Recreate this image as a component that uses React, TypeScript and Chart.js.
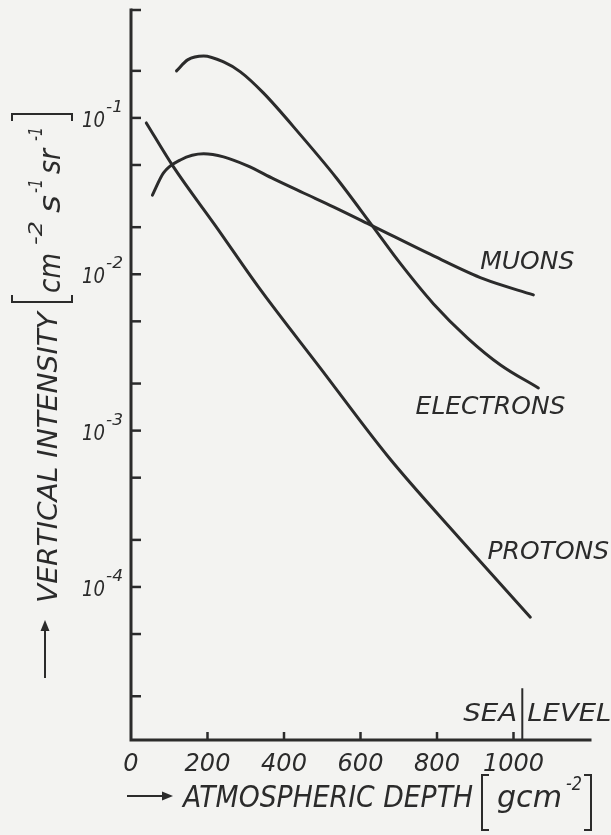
import React, { useEffect, useRef } from "react";
import { Chart, registerables } from "chart.js";

Chart.register(...registerables);

// ---- data ----
const electronDepth = [119, 148, 190, 242, 286, 346, 443, 537, 631, 705, 791, 880, 966, 1065];
const electronIntensity = [0.2, 0.235, 0.249, 0.228, 0.197, 0.1445, 0.0779, 0.0413, 0.0204, 0.01164, 0.00646, 0.00391, 0.00263, 0.001875];

const muonDepth = [56, 85, 129, 190, 242, 305, 373, 451, 529, 631, 791, 922, 1052];
const muonIntensity = [0.0321, 0.0445, 0.0538, 0.0589, 0.0563, 0.0493, 0.0407, 0.0331, 0.027, 0.0204, 0.0131, 0.00933, 0.00738];

const protonDepth = [40, 111, 221, 333, 495, 673, 861, 1044];
const protonIntensity = [0.0929, 0.0486, 0.0204, 0.0083, 0.00251, 0.000678, 0.000202, 0.0000641];

const seriesNames = ["ELECTRONS", "MUONS", "PROTONS"];

const xMin = 0;
const xMax = 1200;
const yMin = 1.05e-5;
const yMax = 0.49;

const xTickValues = [200, 400, 600, 800, 1000];
const xTickLabels = ["0", "200", "400", "600", "800", "1000"];
const xLabelValues = [0, 200, 400, 600, 800, 1000];

const yMajorValues = [1e-1, 1e-2, 1e-3, 1e-4];
const yMajorExponents = ["-1", "-2", "-3", "-4"];
const yMinorValues = [0.49, 0.2, 0.05, 0.02, 5e-3, 2e-3, 5e-4, 2e-4, 5e-5, 2e-5];

const seaLevelDepth = 1023;
const seaLevelTop = 2.25e-5;

// label anchors in data space (depth, intensity)
const labelAnchorDepth = [744, 913, 932];
const labelAnchorIntensity = [0.001459, 0.01234, 0.000172];

const INK = "#2b2b2b";
const FONT = '"DejaVu Sans"';

function fitText(ctx: CanvasRenderingContext2D, text: string, x: number, y: number, w: number, size: number) {
  ctx.font = `italic ${size}px ${FONT}`;
  const m = ctx.measureText(text).width;
  const s = w / m;
  ctx.save();
  ctx.translate(x, y);
  ctx.scale(s, 1);
  ctx.textAlign = "left";
  ctx.textBaseline = "alphabetic";
  ctx.fillText(text, 0, 0);
  ctx.restore();
}

function plainText(ctx: CanvasRenderingContext2D, text: string, x: number, y: number, size: number, align: CanvasTextAlign) {
  ctx.font = `italic ${size}px ${FONT}`;
  ctx.textAlign = align;
  ctx.textBaseline = "alphabetic";
  ctx.fillText(text, x, y);
}

const paperPlugin = {
  id: "paper",
  beforeDraw(chart: any) {
    const ctx = chart.ctx as CanvasRenderingContext2D;
    ctx.save();
    ctx.fillStyle = "#f3f3f1";
    ctx.fillRect(0, 0, chart.width, chart.height);
    ctx.restore();
  },
  afterDraw(chart: any) {
    const ctx = chart.ctx as CanvasRenderingContext2D;
    const xs = chart.scales.x;
    const ys = chart.scales.y;
    const x0 = xs.getPixelForValue(xMin);
    const x1 = xs.getPixelForValue(xMax);
    const yTop = ys.getPixelForValue(yMax);
    const yBot = ys.getPixelForValue(yMin);

    ctx.save();
    ctx.strokeStyle = INK;
    ctx.fillStyle = INK;

    // axes
    ctx.lineWidth = 3;
    ctx.lineCap = "square";
    ctx.beginPath();
    ctx.moveTo(x0, yTop);
    ctx.lineTo(x0, yBot);
    ctx.lineTo(x1, yBot);
    ctx.stroke();

    // y ticks (inward)
    ctx.lineWidth = 2.5;
    ctx.lineCap = "butt";
    [...yMajorValues, ...yMinorValues].forEach((v) => {
      const py = ys.getPixelForValue(v);
      ctx.beginPath();
      ctx.moveTo(x0, py);
      ctx.lineTo(x0 + 10, py);
      ctx.stroke();
    });
    // x ticks (inward)
    xTickValues.forEach((v) => {
      const px = xs.getPixelForValue(v);
      ctx.beginPath();
      ctx.moveTo(px, yBot);
      ctx.lineTo(px, yBot - 8);
      ctx.stroke();
    });

    // y labels 10^n
    yMajorValues.forEach((v, i) => {
      const py = ys.getPixelForValue(v);
      fitText(ctx, "10", 82, py + 9, 23, 22);
      fitText(ctx, yMajorExponents[i], 106, py - 6, 17, 16);
    });

    // x labels
    xLabelValues.forEach((v, i) => {
      const px = xs.getPixelForValue(v);
      plainText(ctx, xTickLabels[i], px, 771, 24, "center");
    });

    // sea level marker
    const sx = xs.getPixelForValue(seaLevelDepth);
    ctx.lineWidth = 2;
    ctx.beginPath();
    ctx.moveTo(sx, ys.getPixelForValue(seaLevelTop));
    ctx.lineTo(sx, yBot);
    ctx.stroke();
    fitText(ctx, "SEA", sx - 59, 721, 54, 25);
    fitText(ctx, "LEVEL", sx + 5, 721, 84, 25);

    // series labels
    seriesNames.forEach((name, i) => {
      const px = xs.getPixelForValue(labelAnchorDepth[i]);
      const py = ys.getPixelForValue(labelAnchorIntensity[i]);
      plainText(ctx, name, px, py + 9, 25, "left");
    });

    // x axis title
    ctx.lineWidth = 2;
    ctx.beginPath();
    ctx.moveTo(127, 796);
    ctx.lineTo(164, 796);
    ctx.stroke();
    ctx.beginPath();
    ctx.moveTo(173, 796);
    ctx.lineTo(162, 791.5);
    ctx.lineTo(162, 800.5);
    ctx.closePath();
    ctx.fill();
    fitText(ctx, "ATMOSPHERIC DEPTH", 183, 807, 290, 30);
    ctx.beginPath();
    ctx.moveTo(489, 775);
    ctx.lineTo(482, 775);
    ctx.lineTo(482, 830);
    ctx.lineTo(489, 830);
    ctx.stroke();
    fitText(ctx, "gcm", 497, 807, 65, 30);
    fitText(ctx, "-2", 566, 790, 16, 19);
    ctx.beginPath();
    ctx.moveTo(584, 775);
    ctx.lineTo(591, 775);
    ctx.lineTo(591, 830);
    ctx.lineTo(584, 830);
    ctx.stroke();

    // y axis title (rotated)
    ctx.save();
    ctx.translate(57, 603);
    ctx.rotate(-Math.PI / 2);
    ctx.beginPath();
    ctx.moveTo(-75, -12);
    ctx.lineTo(-26, -12);
    ctx.stroke();
    ctx.beginPath();
    ctx.moveTo(-17, -12);
    ctx.lineTo(-28, -16.5);
    ctx.lineTo(-28, -7.5);
    ctx.closePath();
    ctx.fill();
    fitText(ctx, "VERTICAL INTENSITY", 0, 0, 291, 27);
    ctx.beginPath();
    ctx.moveTo(308, -45);
    ctx.lineTo(301, -45);
    ctx.lineTo(301, 15);
    ctx.lineTo(308, 15);
    ctx.stroke();
    fitText(ctx, "cm", 310, 3, 40, 30);
    fitText(ctx, "-2", 358, -15, 24, 19);
    fitText(ctx, "s", 390, 3, 18, 30);
    fitText(ctx, "-1", 410, -15, 14, 19);
    fitText(ctx, "sr", 429, 3, 25, 30);
    fitText(ctx, "-1", 462, -15, 14, 19);
    ctx.beginPath();
    ctx.moveTo(482, -45);
    ctx.lineTo(489, -45);
    ctx.lineTo(489, 15);
    ctx.lineTo(482, 15);
    ctx.stroke();
    ctx.restore();

    ctx.restore();
  },
};

function toPoints(xs: number[], ys: number[]) {
  return xs.map((x, i) => ({ x, y: ys[i] }));
}

export default function App() {
  const canvasRef = useRef<HTMLCanvasElement | null>(null);

  useEffect(() => {
    const canvas = canvasRef.current;
    if (!canvas) return;
    const chart = new Chart(canvas, {
      type: "line",
      data: {
        datasets: [
          { label: seriesNames[0], data: toPoints(electronDepth, electronIntensity) },
          { label: seriesNames[1], data: toPoints(muonDepth, muonIntensity) },
          { label: seriesNames[2], data: toPoints(protonDepth, protonIntensity) },
        ],
      },
      options: {
        animation: false,
        responsive: false,
        devicePixelRatio: 1,
        events: [],
        layout: { padding: { left: 131, right: 21, top: 10, bottom: 95 } },
        plugins: { legend: { display: false }, tooltip: { enabled: false } },
        scales: {
          x: { type: "linear", min: xMin, max: xMax, display: false },
          y: { type: "logarithmic", min: yMin, max: yMax, display: false },
        },
        elements: {
          point: { radius: 0 },
          line: {
            borderWidth: 3,
            borderColor: INK,
            cubicInterpolationMode: "monotone",
            borderCapStyle: "round",
            fill: false,
          },
        },
      } as any,
      plugins: [paperPlugin],
    });
    return () => chart.destroy();
  }, []);

  return (
    <div style={{ position: "absolute", left: 0, top: 0, width: 611, height: 835 }}>
      <canvas ref={canvasRef} width={611} height={835} style={{ display: "block" }} />
    </div>
  );
}
